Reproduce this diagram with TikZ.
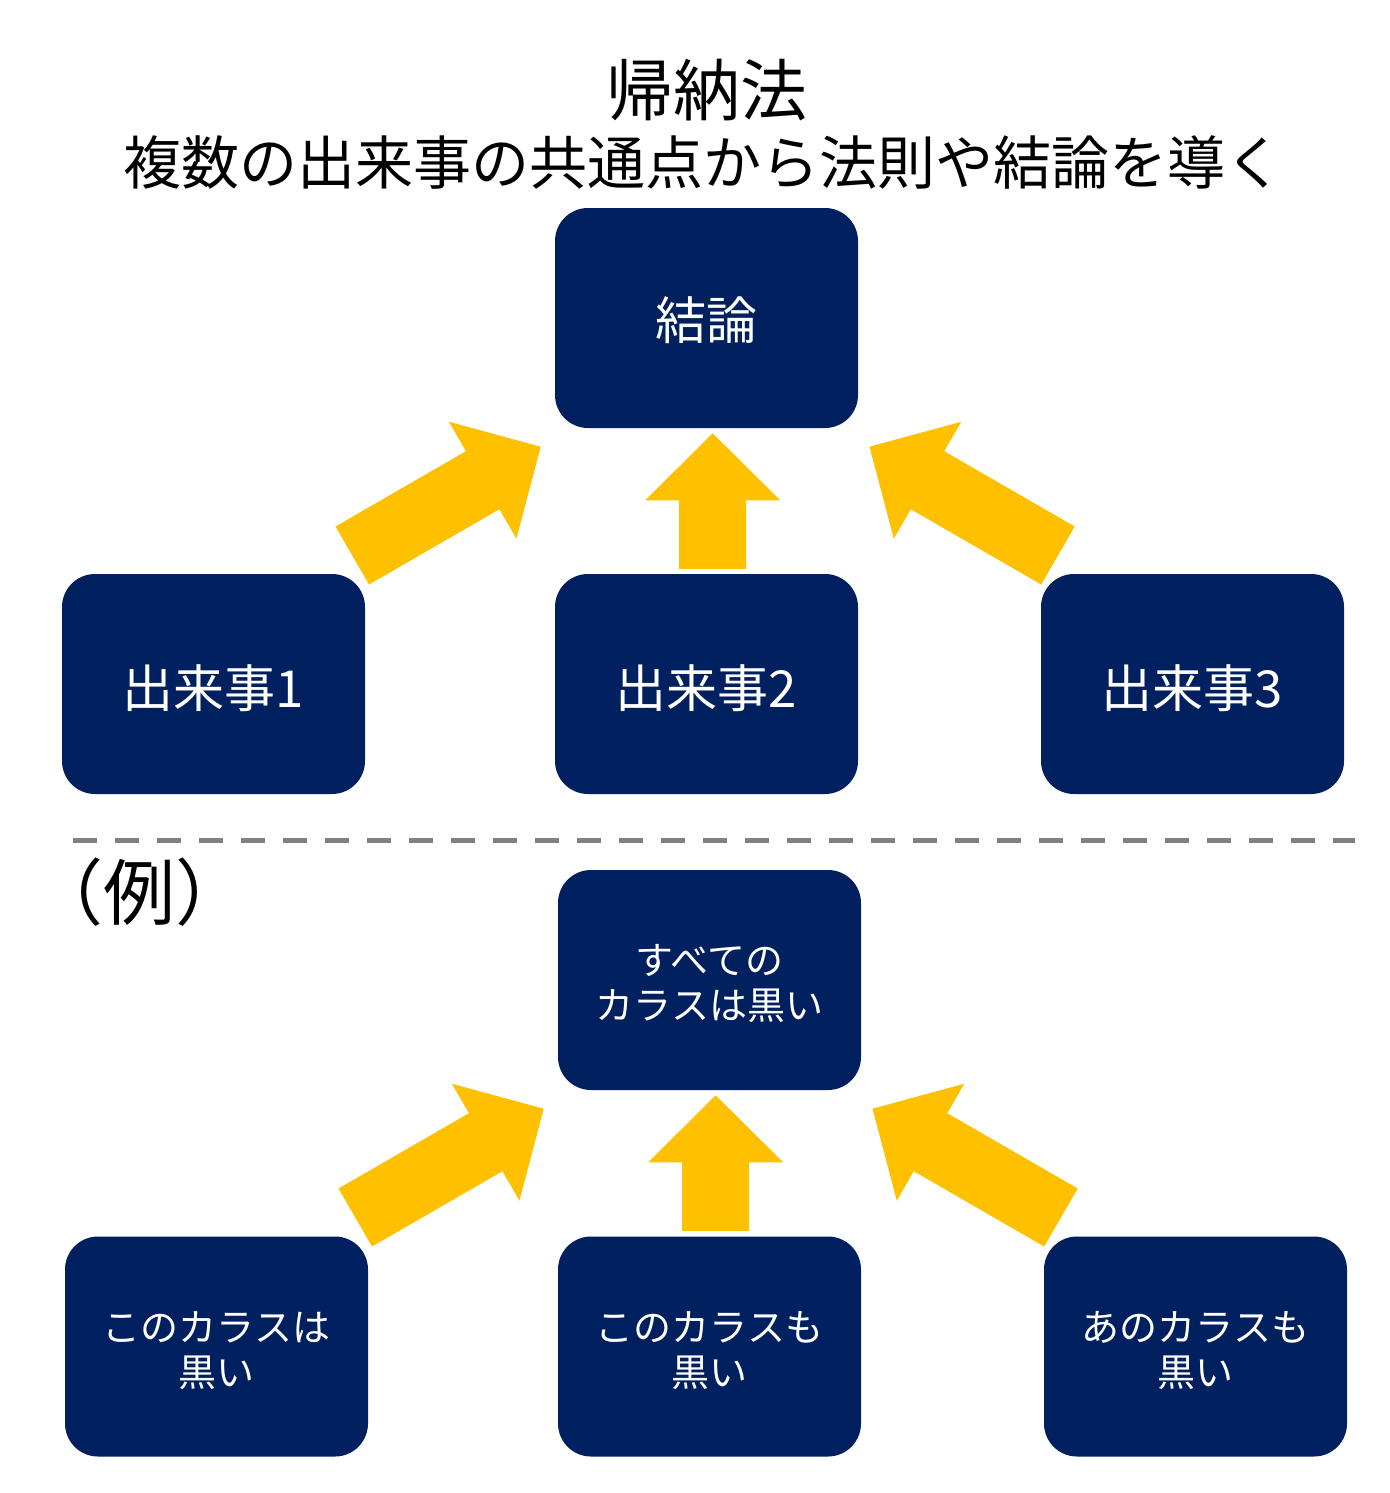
\documentclass[tikz,border=0pt]{standalone}
\usepackage{fontspec}
\setmainfont{Noto Sans CJK JP}
\definecolor{navy}{HTML}{002060}
\definecolor{gold}{HTML}{FFC000}
\definecolor{dashgray}{HTML}{808080}
\newcommand\blockarrow[4]{%
  \begin{scope}[shift={(#1,#2)},rotate=#3]
    \fill[gold] (0,0) -- (-67,67.5) -- (-67,33.5) -- (-#4,33.5) -- (-#4,-33.5) -- (-67,-33.5) -- (-67,-67.5) -- cycle;
  \end{scope}}
\begin{document}
\begin{tikzpicture}[x=0.5pt,y=-0.5pt,
  box/.style={fill=navy,rounded corners=16.5pt,minimum width=151.5pt,minimum height=110pt,inner sep=0pt},
  boxlabel/.style={text=white,align=center,inner sep=0pt},
  bigtext/.style={font=\fontsize{25.5}{30}\selectfont},
  smalltext/.style={font=\fontsize{19}{22.5}\selectfont}]
\useasboundingbox (0,0) rectangle (1390,1493);
% titles
\node[font=\fontsize{33.5}{38}\selectfont] (title) at (707,90) {帰納法};
\node[font=\fontsize{29}{34}\selectfont] (sub) at (703,162) {複数の出来事の共通点から法則や結論を導く};
% top section
\node[box] (concl) at (706.5,318) {};
\node[box] (ev1) at (213.5,684) {};
\node[box] (ev2) at (706.5,684) {};
\node[box] (ev3) at (1192.5,684) {};
\node[boxlabel,bigtext] (concl-t) at ([yshift=-1pt]concl.center) {結論};
\node[boxlabel,bigtext] (ev1-t) at ([yshift=-2pt]ev1.center) {出来事1};
\node[boxlabel,bigtext] (ev2-t) at ([yshift=-2pt]ev2.center) {出来事2};
\node[boxlabel,bigtext] (ev3-t) at ([yshift=-2pt]ev3.center) {出来事3};
\blockarrow{540.7}{446.7}{30}{217.6}
\blockarrow{712.7}{433.3}{90}{135.5}
\blockarrow{869.5}{446.7}{150}{217.6}
% dashed separator
\coordinate (dl) at (73,840);
\coordinate (dr) at (1355,840);
\draw[dashgray,line width=2.5pt,dash pattern=on 12pt off 9pt] (dl) -- (dr);
\node[font=\fontsize{36}{40}\selectfont] (ex) at (140,892) {（例）};
% example section
\node[box] (all) at (709.5,980) {};
\node[box] (c1) at (216.5,1346.5) {};
\node[box] (c2) at (709.5,1346.5) {};
\node[box] (c3) at (1195.5,1346.5) {};
\node[boxlabel,smalltext] (all-t) at ([yshift=-2pt]all.center) {すべての\\カラスは黒い};
\node[boxlabel,smalltext] (c1-t) at ([yshift=-2pt]c1.center) {このカラスは\\黒い};
\node[boxlabel,smalltext] (c2-t) at ([yshift=-2pt]c2.center) {このカラスも\\黒い};
\node[boxlabel,smalltext] (c3-t) at ([yshift=-2pt]c3.center) {あのカラスも\\黒い};
\blockarrow{543.7}{1108.7}{30}{217.6}
\blockarrow{715.7}{1095.3}{90}{135.5}
\blockarrow{872.5}{1108.7}{150}{217.6}
\end{tikzpicture}
\end{document}
